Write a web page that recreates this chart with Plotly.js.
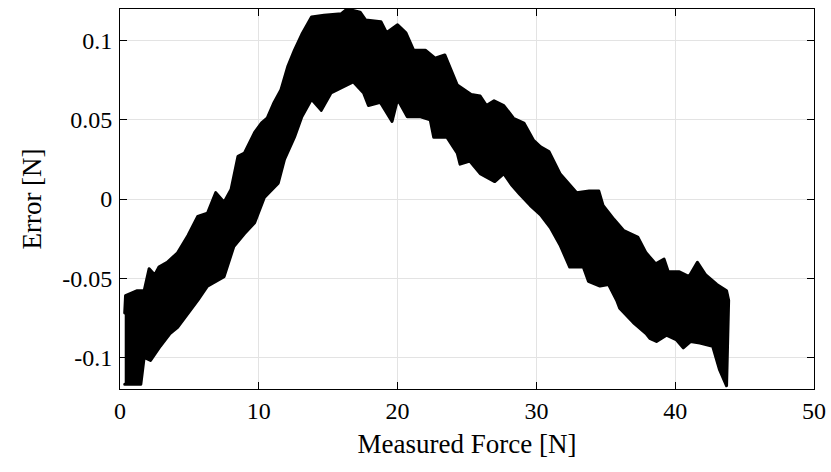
<!DOCTYPE html>
<html>
<head>
<meta charset="utf-8">
<script src="https://cdn.plot.ly/plotly-3.0.1.min.js"></script>
<style>html,body{margin:0;padding:0;background:#fff;}#chart{width:831px;height:472px;}
.js-line,.js-fill{stroke-linejoin:round;stroke-linecap:round;}</style>
</head>
<body>
<div id="chart"></div>
<script>
// Upper envelope of the measured error band
const forceUpper = [0.34, 0.4, 1.2, 1.74, 2.1, 2.5, 2.8, 3.4, 4.15, 4.9, 5.6, 6.3, 6.9, 7.5, 8.0, 8.5, 8.96, 9.7, 10.2, 10.6, 11.1, 11.6, 12.1, 12.57, 13.1, 13.8, 14.7, 15.95, 16.36, 17.3, 17.7, 18.8, 19.2, 20.0, 20.6, 21.15, 22.0, 22.7, 23.4, 23.8, 24.3, 25.3, 25.95, 26.4, 26.95, 27.65, 28.35, 29.1, 29.8, 30.3, 30.9, 31.7, 32.4, 32.9, 33.8, 34.5, 34.8, 35.6, 36.3, 37.3, 37.9, 38.6, 39.2, 39.5, 40.3, 41.0, 41.6, 42.2, 43.0, 43.7, 43.85];
const errorUpper = [-0.072, -0.061, -0.058, -0.058, -0.044, -0.048, -0.043, -0.040, -0.034, -0.023, -0.011, -0.009, 0.004, -0.002, 0.006, 0.027, 0.029, 0.042, 0.048, 0.051, 0.061, 0.069, 0.084, 0.094, 0.104, 0.115, 0.116, 0.117, 0.120, 0.118, 0.113, 0.112, 0.105, 0.110, 0.105, 0.094, 0.094, 0.089, 0.091, 0.082, 0.072, 0.066, 0.065, 0.059, 0.062, 0.059, 0.051, 0.048, 0.037, 0.033, 0.030, 0.016, 0.009, 0.004, 0.005, 0.005, -0.004, -0.013, -0.020, -0.024, -0.034, -0.041, -0.038, -0.046, -0.046, -0.049, -0.040, -0.048, -0.054, -0.058, -0.064];
// Lower envelope of the measured error band
const forceLower = [0.34, 1.5, 1.74, 2.2, 2.9, 3.6, 4.15, 4.9, 5.6, 6.3, 7.5, 8.2, 8.96, 9.7, 10.4, 11.4, 11.85, 12.57, 13.1, 13.8, 14.5, 15.2, 15.9, 16.8, 17.55, 17.9, 18.76, 19.6, 20.0, 20.7, 21.6, 22.35, 22.6, 23.55, 24.3, 24.5, 25.2, 25.95, 27.0, 27.65, 28.2, 28.8, 29.55, 30.3, 31.0, 31.7, 32.4, 33.38, 33.75, 34.58, 35.2, 35.78, 36.0, 36.98, 37.9, 38.17, 38.65, 39.37, 40.1, 40.58, 41.1, 41.78, 42.7, 43.2, 43.7, 43.85];
const errorLower = [-0.117, -0.117, -0.100, -0.102, -0.093, -0.085, -0.081, -0.072, -0.064, -0.055, -0.049, -0.030, -0.022, -0.015, 0.001, 0.010, 0.025, 0.039, 0.052, 0.063, 0.056, 0.067, 0.070, 0.074, 0.067, 0.059, 0.061, 0.049, 0.063, 0.052, 0.052, 0.050, 0.039, 0.039, 0.029, 0.022, 0.024, 0.016, 0.011, 0.016, 0.009, 0.003, -0.004, -0.010, -0.018, -0.029, -0.043, -0.043, -0.052, -0.055, -0.054, -0.064, -0.069, -0.078, -0.085, -0.088, -0.090, -0.086, -0.089, -0.094, -0.090, -0.091, -0.093, -0.108, -0.118, -0.064];

const xTickVals = [0, 10, 20, 30, 40, 50];
const xTickText = ['0', '10', '20', '30', '40', '50'];
const yTickVals = [-0.1, -0.05, 0, 0.05, 0.1];
const yTickText = ['-0.1', '-0.05', '0', '0.05', '0.1'];

const polyX = forceUpper.concat(forceLower.slice().reverse());
const polyY = errorUpper.concat(errorLower.slice().reverse());

const FONT = 'Liberation Serif, DejaVu Serif, serif';

const trace = {
  x: polyX, y: polyY, type: 'scatter', mode: 'lines',
  fill: 'toself', fillcolor: '#000000',
  line: {color: '#000000', width: 3, shape: 'linear'},
  hoverinfo: 'skip', showlegend: false
};

const axisCommon = {
  showline: true, linecolor: '#000', linewidth: 1, mirror: 'ticks',
  ticks: 'inside', ticklen: 7, tickwidth: 1, tickcolor: '#000',
  showgrid: true, gridcolor: '#e3e3e3', gridwidth: 1,
  zeroline: false, tickfont: {family: FONT, size: 24, color: '#000'}
};

const layout = {
  width: 831, height: 472,
  margin: {l: 120, r: 17, t: 9, b: 83},
  paper_bgcolor: '#fff', plot_bgcolor: '#fff',
  showlegend: false,
  xaxis: Object.assign({}, axisCommon, {
    range: [0, 50], tickmode: 'array', tickvals: xTickVals, ticktext: xTickText,
    ticklabelstandoff: 0,
    title: {text: 'Measured Force [N]', font: {family: FONT, size: 27, color: '#000'}, standoff: 11}
  }),
  yaxis: Object.assign({}, axisCommon, {
    range: [-0.12, 0.12], tickmode: 'array', tickvals: yTickVals, ticktext: yTickText,
    ticklabelstandoff: 2,
    title: {text: 'Error [N]', font: {family: FONT, size: 27, color: '#000'}, standoff: 12}
  })
};

Plotly.newPlot('chart', [trace], layout, {staticPlot: true, displayModeBar: false});
</script>
</body>
</html>
